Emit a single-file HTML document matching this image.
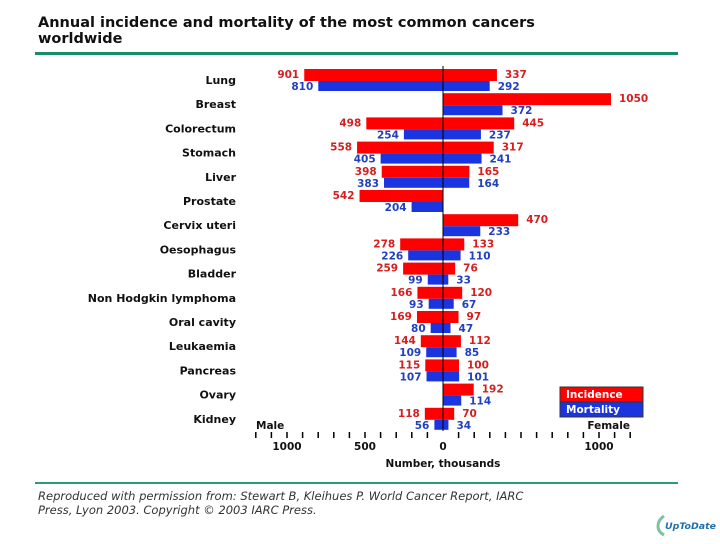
<!DOCTYPE html>
<html><head><meta charset="utf-8"><style>
body{margin:0;background:#fff;width:720px;height:540px;overflow:hidden;font-family:"DejaVu Sans","Liberation Sans",sans-serif}
</style></head><body>
<svg width="720" height="540" xmlns="http://www.w3.org/2000/svg">
<text x="38" y="27" font-size="14.5" font-weight="bold" fill="#111">Annual incidence and mortality of the most common cancers</text>
<text x="38" y="43" font-size="14.5" font-weight="bold" fill="#111">worldwide</text>
<rect x="35" y="52" width="643" height="3" fill="#168c6a"/>
<rect x="35" y="482" width="643" height="2" fill="#2d9a7a"/>
<text x="38" y="500" font-size="11.5" font-style="italic" fill="#333">Reproduced with permission from: Stewart B, Kleihues P. World Cancer Report, IARC</text>
<text x="38" y="514" font-size="11.5" font-style="italic" fill="#333">Press, Lyon 2003. Copyright © 2003 IARC Press.</text>
<g>
<path d="M664 516 q-6 4 -6 10 q0 6 6 9" stroke="#7cc4a0" stroke-width="3" fill="none"/>
<text x="665" y="529" font-size="9" font-style="italic" font-weight="bold" fill="#1f6fb0" textLength="51" lengthAdjust="spacingAndGlyphs">UpToDate</text>
</g>
<g id="chart"></g>
<g>
<rect x="560" y="387" width="83" height="15" fill="#ff0000" stroke="#333"/>
<text x="566" y="398" font-size="10.5" font-weight="bold" fill="#fff">Incidence</text>
<rect x="560" y="402" width="83" height="15" fill="#1a35e0" stroke="#333"/>
<text x="566" y="413" font-size="10.5" font-weight="bold" fill="#fff">Mortality</text>
</g>
</svg>
<script>
const categories=["Lung","Breast","Colorectum","Stomach","Liver","Prostate","Cervix uteri","Oesophagus","Bladder","Non Hodgkin lymphoma","Oral cavity","Leukaemia","Pancreas","Ovary","Kidney"];
const maleIncidence=[901,0,498,558,398,542,0,278,259,166,169,144,115,0,118];
const maleMortality=[810,0,254,405,383,204,0,226,99,93,80,109,107,0,56];
const femaleIncidence=[337,1050,445,317,165,0,470,133,76,120,97,112,100,192,70];
const femaleMortality=[292,372,237,241,164,0,233,110,33,67,47,85,101,114,34];
const tickLabels=[1000,500,0,1000];
const tickValues=[-1000,-500,0,1000];
const NS="http://www.w3.org/2000/svg";
const g=document.getElementById('chart');
const X0=443;
function xM(v){return X0-v*0.154;}
function xF(v){return X0+v*0.16;}
function xT(v){return X0+v*0.156;}
function rowY(i){return 69+i*24.2;}
function mk(t,a,txt){const e=document.createElementNS(NS,t);for(const k in a)e.setAttribute(k,a[k]);if(txt!==undefined)e.textContent=txt;g.appendChild(e);return e;}
const RED="#ff0000",BLUE="#1a35e0",RT="#d42020",BT="#2040c0";
categories.forEach((c,i)=>{
  const y=rowY(i);
  let t=mk('text',{x:236,y:y+15,'font-size':11,'font-weight':'bold','text-anchor':'end',fill:'#111'},c);
  
  
  const defs=[[maleIncidence[i],true,y,12,RED,RT],[maleMortality[i],true,y+12,10,BLUE,BT],[femaleIncidence[i],false,y,12,RED,RT],[femaleMortality[i],false,y+12,10,BLUE,BT]];
  defs.forEach(([v,male,by,h,col,tc])=>{
    if(!v)return;
    const xe=male?xM(v):xF(v);
    const r=mk('rect',{x:male?xe:X0,y:by,width:Math.abs(xe-X0),height:h,fill:col});
    
    
    const l=mk('text',{x:male?xe-5:xe+8,y:by+9,'font-size':10.5,'font-weight':'bold','text-anchor':male?'end':'start',fill:tc},String(v));
    
    
  });
});
let ax=mk('line',{x1:X0,y1:66,x2:X0,y2:431,stroke:'#000','stroke-width':1});


for(let v=-1200;v<=1200;v+=100){
  if(v===0)continue;
  const tk=mk('line',{x1:xT(v),y1:432,x2:xT(v),y2:438,stroke:'#000','stroke-width':1.5});
  
  
}
tickValues.forEach((v,i)=>{
  const t=mk('text',{x:xT(v),y:450,'font-size':10.5,'font-weight':'bold','text-anchor':'middle',fill:'#111'},String(tickLabels[i]));
  
  
});
let a=mk('text',{x:443,y:467,'font-size':10.5,'font-weight':'bold','text-anchor':'middle',fill:'#111'},'Number, thousands');


let m=mk('text',{x:256,y:429,'font-size':10.5,'font-weight':'bold',fill:'#111'},'Male');


let f=mk('text',{x:630,y:429,'font-size':10.5,'font-weight':'bold','text-anchor':'end',fill:'#111'},'Female');


</script>
</body></html>
